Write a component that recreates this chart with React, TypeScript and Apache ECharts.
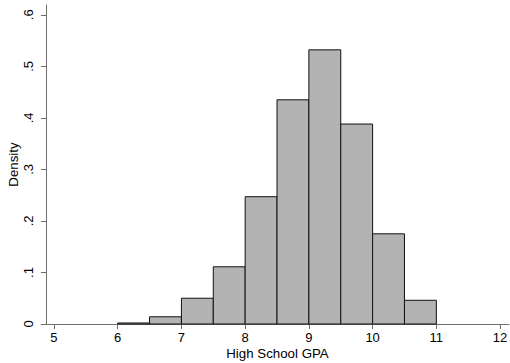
import React, { useEffect, useRef } from "react";
import * as echarts from "echarts";

const binStarts = [6, 6.5, 7, 7.5, 8, 8.5, 9, 9.5, 10, 10.5];
const binEnds = [6.5, 7, 7.5, 8, 8.5, 9, 9.5, 10, 10.5, 11];
const densities = [0.002, 0.014, 0.05, 0.111, 0.247, 0.435, 0.532, 0.388, 0.175, 0.046];
const xTicks = [5, 6, 7, 8, 9, 10, 11, 12];
const yTicks = [0, 0.1, 0.2, 0.3, 0.4, 0.5, 0.6];
const yTickLabels = ["0", ".1", ".2", ".3", ".4", ".5", ".6"];

export default function App() {
  const ref = useRef<HTMLDivElement>(null);
  useEffect(() => {
    if (!ref.current) return;
    const chart = echarts.init(ref.current, null, { renderer: "svg" });
    const data = binStarts.map((s, i) => [s, binEnds[i], densities[i]]);
    const axisColor = "#6e6e6e";
    const ff = "Liberation Sans, Arial, sans-serif";
    chart.setOption({
      animation: false,
      backgroundColor: "#ffffff",
      textStyle: { fontFamily: ff },
      grid: { left: 46, right: 1, top: 5, bottom: 39, containLabel: false, outerBoundsMode: "none" },
      xAxis: {
        type: "value",
        min: 4.875,
        max: 12.14,
        splitLine: { show: false },
        axisLine: { show: true, lineStyle: { color: axisColor, width: 1 } },
        axisTick: { show: true, length: 5, customValues: xTicks, lineStyle: { color: axisColor } },
        axisLabel: {
          customValues: xTicks,
          color: "#000",
          fontSize: 13,
          margin: 7,
          fontFamily: ff,
        },
        name: "High School GPA",
        nameLocation: "middle",
        nameGap: 23,
        nameMoveOverlap: false,
        nameTextStyle: { color: "#000", fontSize: 13.3, fontFamily: ff, verticalAlign: "top" },
      },
      yAxis: {
        type: "value",
        min: 0,
        max: 0.619,
        splitLine: { show: false },
        axisLine: { show: true, lineStyle: { color: axisColor, width: 1 } },
        axisTick: { show: true, length: 5, customValues: yTicks, lineStyle: { color: axisColor } },
        axisLabel: {
          customValues: yTicks,
          rotate: 90,
          color: "#000",
          fontSize: 13,
          margin: 11,
          fontFamily: ff,
          formatter: (v: number) => {
            const idx = yTicks.findIndex((t) => Math.abs(t - v) < 1e-9);
            return idx >= 0 ? yTickLabels[idx] : "";
          },
        },
        name: "Density",
        nameLocation: "middle",
        nameGap: 26,
        nameRotate: 90,
        nameMoveOverlap: false,
        nameTextStyle: { color: "#000", fontSize: 13.3, fontFamily: ff },
      },
      series: [
        {
          type: "custom",
          data,
          encode: { x: [0, 1], y: 2 },
          renderItem: (params: any, api: any) => {
            const p0 = api.coord([api.value(0), api.value(2)]);
            const p1 = api.coord([api.value(1), 0]);
            return {
              type: "rect",
              shape: { x: p0[0], y: p0[1], width: p1[0] - p0[0], height: p1[1] - p0[1] },
              style: { fill: "#b3b3b3", stroke: "#111", lineWidth: 1 },
            };
          },
        },
      ],
    });
    return () => chart.dispose();
  }, []);
  return <div ref={ref} style={{ width: 510, height: 363, position: "absolute", left: 0, top: 0 }} />;
}
